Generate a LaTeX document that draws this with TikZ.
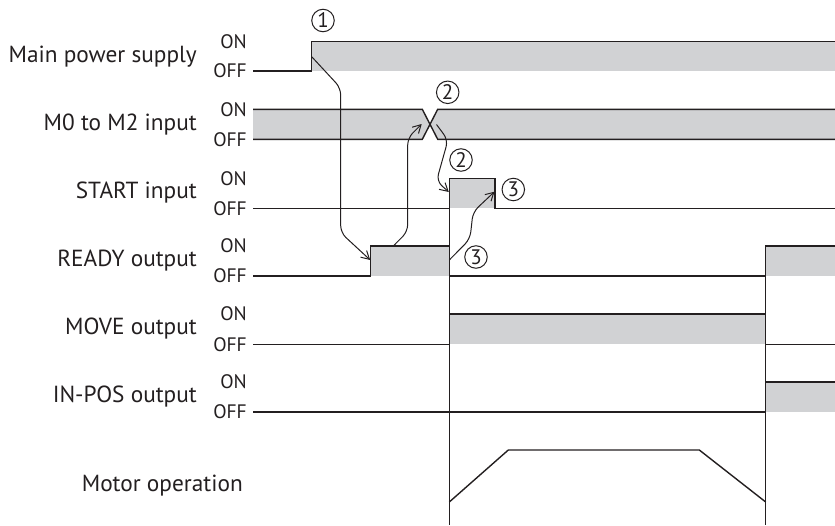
\documentclass[tikz,border=0pt]{standalone}
\usepackage{fontspec}
\setmainfont{PT Sans}
\usetikzlibrary{arrows.meta}
\definecolor{sig}{HTML}{231F20}
\definecolor{gfill}{HTML}{D1D2D4}
\tikzset{
  lbl/.style={anchor=east,inner sep=0pt,font=\fontsize{23.3}{26}\selectfont,text=sig},
  lvl/.style={anchor=east,inner sep=0pt,font=\fontsize{19.5}{22}\selectfont,text=sig},
  wave/.style={draw=sig,line width=1.4pt,line join=miter},
  gray/.style={fill=gfill,draw=none},
  guide/.style={draw=sig,line width=1pt},
  flow/.style={draw=sig,line width=1pt,rounded corners=7pt,-{Straight Barb[length=8pt,width=9pt,line width=1pt]}},
  num/.style={circle,draw=sig,line width=1pt,inner sep=0pt,minimum size=22.5pt,font=\fontsize{21}{21}\selectfont,text=sig}
}
\begin{document}
\begin{tikzpicture}[x=1pt,y=-1pt]
\useasboundingbox (0,0) rectangle (835,525);
% row labels
\node[lbl] (l1) at (197,56.5) {Main power supply};
\node[lbl] (l2) at (197,124.5) {M0 to M2 input};
\node[lbl] (l3) at (197,193) {START input};
\node[lbl] (l4) at (197,261) {READY output};
\node[lbl] (l5) at (197,329) {MOVE output};
\node[lbl] (l6) at (197,397) {IN-POS output};
\node[lbl] (l7) at (243,486) {Motor operation};
% ON / OFF
\foreach \n/\on/\off in {1/41.7/71, 2/109.3/139.3, 3/178.3/208.3, 4/246/276, 5/314/344.3, 6/382/412}{
  \node[lvl] (on\n) at (247,\on) {ON};
  \node[lvl] (off\n) at (247,\off) {OFF};
}
% gray areas
\fill[gray] (311.7,41.7) rectangle (835,71);
\fill[gray] (253,109.3) -- (422.3,109.3) -- (430,124.3) -- (422.3,139.3) -- (253,139.3) -- cycle;
\fill[gray] (437.7,109.3) -- (835,109.3) -- (835,139.3) -- (437.7,139.3) -- (430,124.3) -- cycle;
\fill[gray] (449.3,178.3) rectangle (495,208.3);
\fill[gray] (370.7,246) rectangle (449.3,276);
\fill[gray] (765.7,246) rectangle (835,276);
\fill[gray] (449.3,314) rectangle (765.7,344.3);
\fill[gray] (765.7,382) rectangle (835,412);
% waveforms
\draw[wave] (253,71) -- (311.7,71) -- (311.7,41.7) -- (835,41.7);
\draw[wave] (253,109.3) -- (422.3,109.3) -- (437.7,139.3) -- (835,139.3);
\draw[wave] (253,139.3) -- (422.3,139.3) -- (437.7,109.3) -- (835,109.3);
\draw[wave] (253,208.3) -- (449.3,208.3) -- (449.3,178.3) -- (495,178.3) -- (495,208.3) -- (835,208.3);
\draw[wave] (253,276) -- (370.7,276) -- (370.7,246) -- (449.3,246) -- (449.3,276) -- (765.7,276) -- (765.7,246) -- (835,246);
\draw[wave] (253,344.3) -- (449.3,344.3) -- (449.3,314) -- (765.7,314) -- (765.7,344.3) -- (835,344.3);
\draw[wave] (253,412) -- (765.7,412) -- (765.7,382) -- (835,382);
\draw[wave] (449.3,502) -- (508.3,450) -- (699.3,450) -- (765.7,502);
% guide lines
\draw[guide] (449.3,178.3) -- (449.3,525);
\draw[guide] (765.7,246) -- (765.7,525);
% coordinates for the sequence arrows
\coordinate (a1s) at (311.7,56.7);
\coordinate (a1t) at (370.2,260);
\coordinate (a2s) at (393.3,246);
\coordinate (a2t) at (421.7,124);
\coordinate (a3s) at (436.5,124.5);
\coordinate (a3t) at (448.8,192);
\coordinate (a4s) at (449.3,260);
\coordinate (a4t) at (494.5,191.7);
\draw[flow] (a1s) -- (340.7,88) -- (340.7,232.7) -- (a1t);
\draw[flow] (a2s) -- (407.7,231.5) -- (407.7,138) -- (a2t);
\draw[flow] (a3s) -- (448,140) -- (436.5,181) -- (a3t);
\draw[flow] (a4s) -- (470,239) -- (473,212) -- (a4t);
% step numbers
\node[num] (n1) at (323,20.5) {1};
\node[num] (n2a) at (447.7,92.3) {2};
\node[num] (n2b) at (461,160) {2};
\node[num] (n3a) at (513.3,189.5) {3};
\node[num] (n3b) at (476,257) {3};
\end{tikzpicture}
\end{document}
